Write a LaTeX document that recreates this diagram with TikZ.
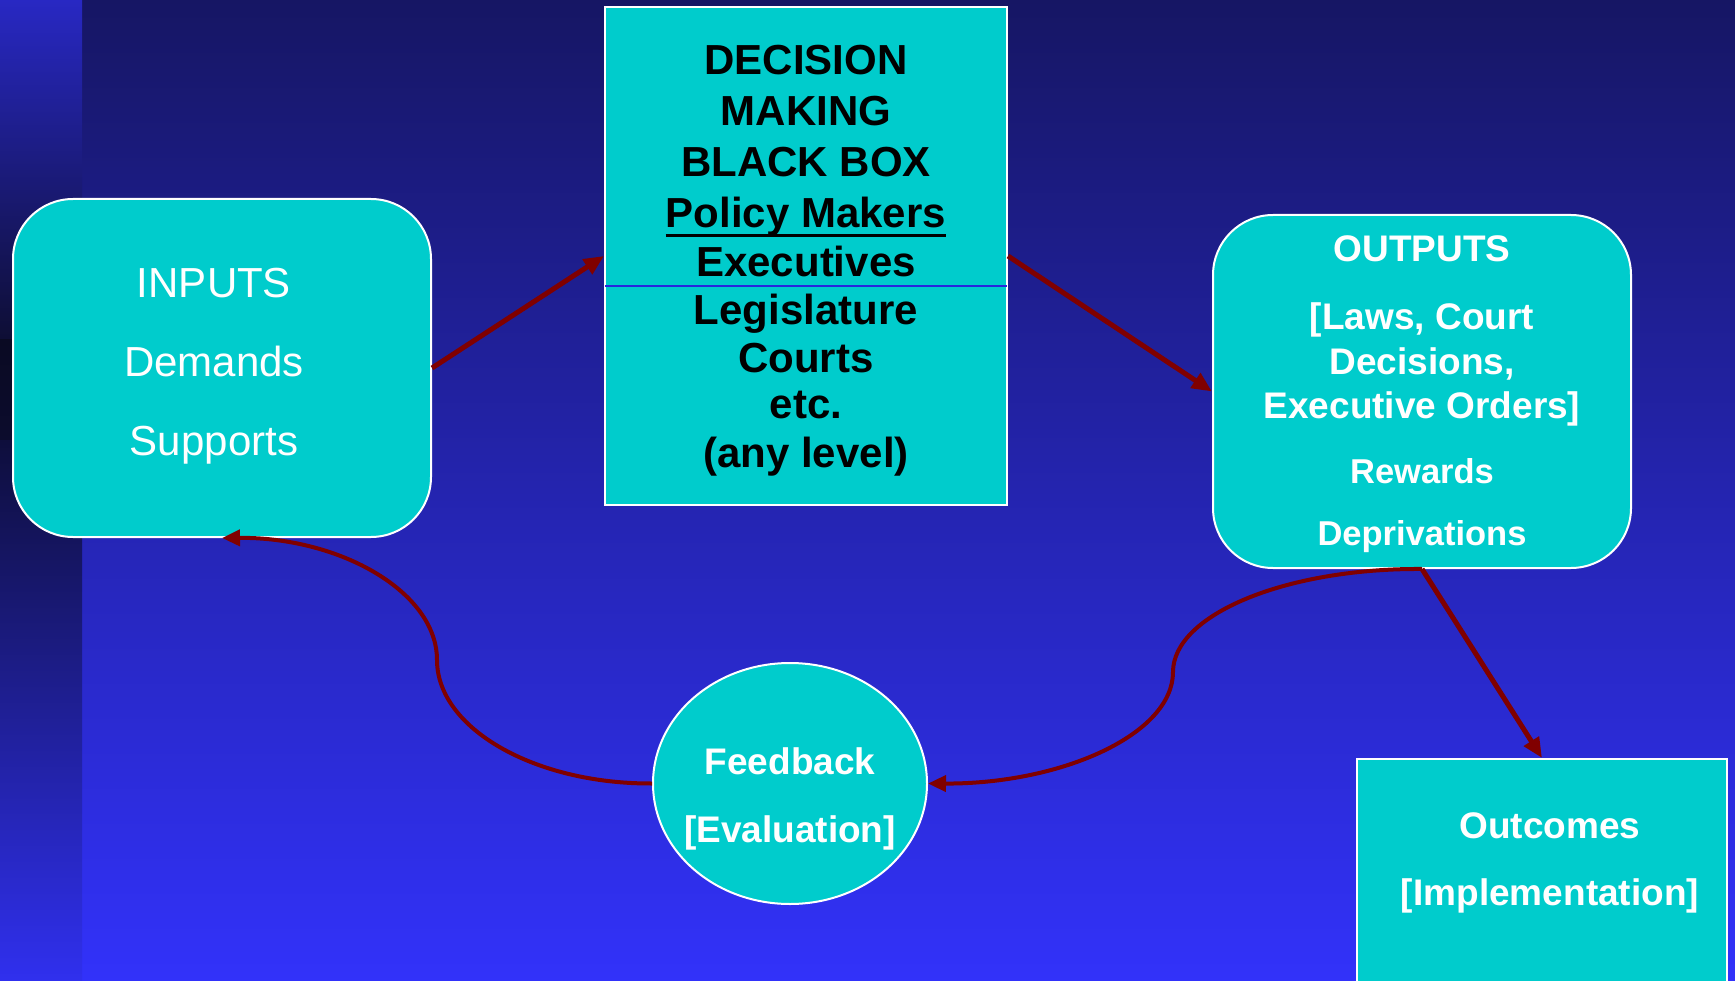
\documentclass[tikz,border=0pt]{standalone}
\usepackage{fontspec}
\setmainfont{Liberation Sans}
\usetikzlibrary{arrows.meta,shapes.geometric,calc}
\definecolor{cyanbox}{RGB}{0,204,204}
\definecolor{arrowred}{RGB}{128,0,0}
\definecolor{bgtop}{RGB}{22,22,100}
\definecolor{bgbot}{RGB}{50,50,250}
\definecolor{striptop}{RGB}{40,40,195}
\definecolor{stripa}{RGB}{14,14,52}
\definecolor{stripb}{RGB}{10,10,35}
\definecolor{stripblack}{RGB}{0,0,8}
\definecolor{stripc}{RGB}{12,12,45}
\definecolor{stripd}{RGB}{14,14,60}
\definecolor{stripbot}{RGB}{48,48,238}
\definecolor{divider}{RGB}{40,40,220}
\tikzset{
  shapebox/.style={draw=white, line width=2pt, fill=cyanbox, inner sep=0pt},
  roundbox/.style={shapebox, rectangle, rounded corners=60pt},
  sqbox/.style={shapebox, rectangle},
  ovalbox/.style={shapebox, ellipse},
  txt/.style={inner sep=0pt, anchor=base},
  inptxt/.style={txt, text=white, font=\fontsize{42}{50}\selectfont},
  bbtxt/.style={txt, text=black, font=\fontsize{42}{50}\selectfont\bfseries},
  outtxt/.style={txt, text=white, font=\fontsize{37}{44}\selectfont\bfseries},
  smalltxt/.style={txt, text=white, font=\fontsize{34.5}{41}\selectfont\bfseries},
  conn/.style={draw=arrowred, line width=5pt, -{Triangle[length=20pt,width=17pt]}},
  curveconn/.style={draw=arrowred, line width=4pt, -{Triangle[length=18pt,width=16pt]}},
}
\begin{document}
\begin{tikzpicture}[x=1pt,y=-1pt]
\useasboundingbox (0,0) rectangle (1735,981);
% background
\shade[top color=bgtop, bottom color=bgbot] (82,0) rectangle (1735,981);
\shade[top color=striptop, bottom color=stripa] (0,0) rectangle (82,340);
\shade[top color=stripb, middle color=stripblack, bottom color=stripc] (0,340) rectangle (82,440);
\shade[top color=stripd, bottom color=stripbot] (0,440) rectangle (82,981);

% shapes
\node[roundbox, minimum width=418pt, minimum height=338pt] (inp) at (222,368) {};
\node[sqbox, minimum width=402pt, minimum height=498pt] (bb) at (806,256) {};
\node[roundbox, minimum width=418pt, minimum height=353pt] (outp) at (1422,391.5) {};
\node[ovalbox, minimum width=274pt, minimum height=241pt] (fb) at (790,783.5) {};
\node[sqbox, minimum width=370pt, minimum height=260pt] (outc) at (1542,889) {};

% divider in black box
\draw[divider, line width=1.5pt] ($(bb.north west)+(1,280)$) -- ($(bb.north east)+(-1,280)$);

% inputs text
\node[inptxt] (i1) at (214,298) {INPUTS};
\node[inptxt] (i2) at (214,377) {Demands};
\node[inptxt] (i3) at (214,455) {Supports};

% black box text
\node[bbtxt] (b1) at (806,75) {DECISION};
\node[bbtxt] (b2) at (806,126) {MAKING};
\node[bbtxt] (b3) at (806,177) {BLACK BOX};
\node[bbtxt] (pm) at (806,228) {Policy Makers};
\draw[black, line width=3pt] ($(pm.base west)+(0,8)$) -- ($(pm.base east)+(0,8)$);
\node[bbtxt] (b5) at (806,277) {Executives};
\node[bbtxt] (b6) at (806,325) {Legislature};
\node[bbtxt] (b7) at (806,373) {Courts};
\node[bbtxt] (b8) at (806,419) {etc.};
\node[bbtxt] (b9) at (806,467) {(any level)};

% outputs text
\node[outtxt] (o1) at (1422,262) {OUTPUTS};
\node[outtxt] (o2) at (1422,330) {[Laws, Court};
\node[outtxt] (o3) at (1422,375) {Decisions,};
\node[outtxt] (o4) at (1422,418) {Executive Orders]};
\node[smalltxt] (o5) at (1422,483) {Rewards};
\node[smalltxt] (o6) at (1422,545) {Deprivations};

% feedback text
\node[outtxt] (f1) at (790,774) {Feedback};
\node[outtxt] (f2) at (790,842) {[Evaluation]};

% outcomes text
\node[outtxt] (c1) at (1550,838) {Outcomes};
\node[outtxt] (c2) at (1550,905) {[Implementation]};

% connectors
\coordinate (bendA) at (1173,672);
\coordinate (bendB) at (437,660);
\draw[conn] (inp.east) -- (bb.west);
\draw[conn] (bb.east) -- (outp.west);
\draw[conn] (outp.south) -- (outc.north);
\draw[curveconn] (outp.south) .. controls (1285,568) and (1173,615) .. (bendA)
  .. controls (1173,734) and (1062,784) .. (fb.east);
\draw[curveconn] (fb.west) .. controls (534,784) and (437,728) .. (bendB)
  .. controls (437,592) and (340,537) .. (inp.south);
\end{tikzpicture}
\end{document}
